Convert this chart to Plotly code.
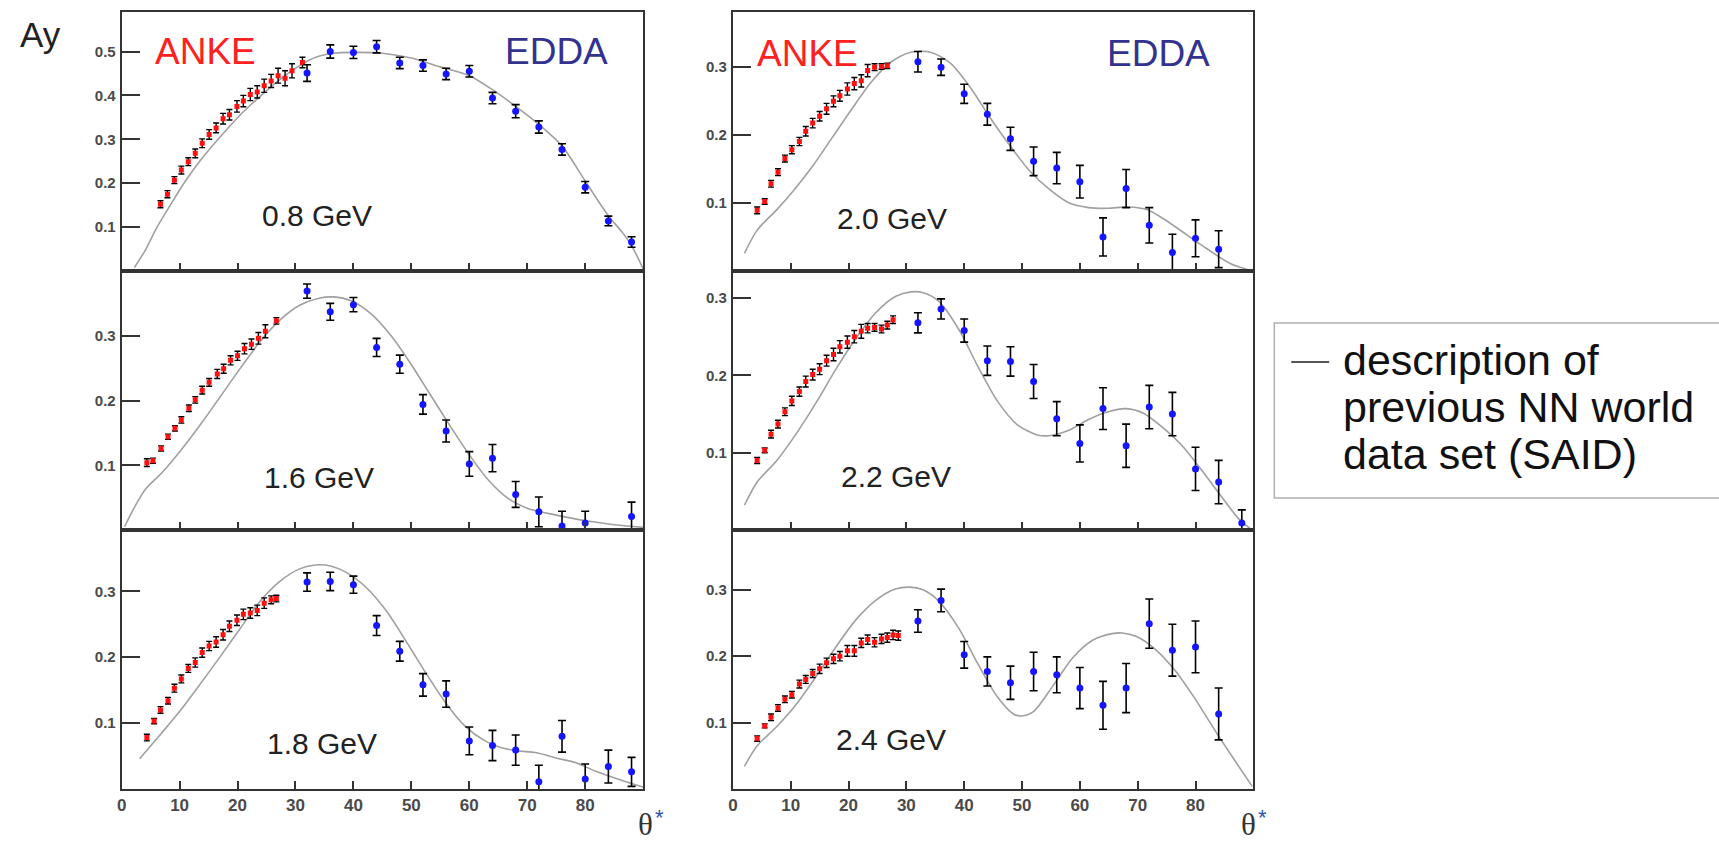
import plotly.graph_objects as go

# ---------------- data: analysing power Ay vs theta* (deg) ----------------
# 0.8 GeV
anke_theta_08 = [6.7, 7.9, 9.1, 10.3, 11.5, 12.7, 13.9, 15.1, 16.3, 17.5, 18.6, 19.9, 21.0, 22.2, 23.4, 24.6, 25.8, 27.0, 28.2, 29.4, 31.2]
anke_ay_08 = [0.152, 0.175, 0.207, 0.230, 0.249, 0.268, 0.291, 0.311, 0.326, 0.347, 0.356, 0.375, 0.387, 0.402, 0.408, 0.422, 0.433, 0.445, 0.439, 0.456, 0.475]
anke_err_08 = [0.008, 0.008, 0.008, 0.009, 0.009, 0.010, 0.010, 0.011, 0.011, 0.012, 0.012, 0.013, 0.013, 0.014, 0.014, 0.015, 0.015, 0.017, 0.017, 0.016, 0.012]
edda_theta_08 = [32, 36, 40, 44, 48, 52, 56, 60, 64, 68, 72, 76, 80, 84, 88]
edda_ay_08 = [0.451, 0.500, 0.498, 0.511, 0.474, 0.468, 0.449, 0.455, 0.394, 0.364, 0.328, 0.277, 0.191, 0.114, 0.066]
edda_err_08 = [0.019, 0.015, 0.014, 0.014, 0.013, 0.013, 0.013, 0.013, 0.013, 0.015, 0.014, 0.013, 0.013, 0.011, 0.012]
said_theta_08 = [2.2, 4.2, 5.9, 8.3, 11.0, 13.7, 17.1, 20.5, 23.9, 27.3, 30.7, 33.5, 36.5, 40, 45, 50, 55, 60, 64, 68, 72, 76, 80, 84, 86.4, 88, 90]
said_ay_08 = [0.008, 0.050, 0.095, 0.148, 0.205, 0.254, 0.307, 0.356, 0.398, 0.436, 0.468, 0.487, 0.496, 0.498, 0.496, 0.485, 0.465, 0.445, 0.413, 0.375, 0.334, 0.285, 0.205, 0.126, 0.088, 0.058, 0.005]

# 1.6 GeV
anke_theta_16 = [4.35, 5.4, 6.8, 8.0, 9.2, 10.3, 11.6, 12.7, 13.9, 15.1, 16.5, 17.6, 18.8, 20.0, 21.2, 22.4, 23.6, 24.8, 26.7]
anke_ay_16 = [0.104, 0.107, 0.126, 0.144, 0.157, 0.170, 0.188, 0.201, 0.216, 0.228, 0.241, 0.249, 0.262, 0.269, 0.280, 0.287, 0.296, 0.307, 0.323]
anke_err_16 = [0.006, 0.004, 0.004, 0.004, 0.004, 0.005, 0.005, 0.005, 0.006, 0.006, 0.007, 0.007, 0.007, 0.007, 0.008, 0.008, 0.009, 0.010, 0.005]
edda_theta_16 = [32, 36, 40, 44, 48, 52, 56, 60, 64, 68, 72, 76, 80, 88]
edda_ay_16 = [0.369, 0.337, 0.348, 0.282, 0.256, 0.194, 0.153, 0.102, 0.111, 0.055, 0.028, 0.006, 0.011, 0.021]
edda_err_16 = [0.011, 0.013, 0.011, 0.014, 0.014, 0.015, 0.017, 0.019, 0.021, 0.020, 0.023, 0.023, 0.018, 0.022]
said_theta_16 = [0.5, 2.2, 4.2, 6.9, 10.3, 13.7, 17.1, 20.5, 23.9, 27.3, 30.7, 34.1, 36.5, 39.6, 43.0, 46.4, 49.8, 53.2, 56.6, 60.0, 63.4, 66.8, 70.2, 75.0, 80.4, 86.4, 90]
said_ay_16 = [0.005, 0.035, 0.064, 0.088, 0.124, 0.164, 0.207, 0.250, 0.291, 0.324, 0.347, 0.358, 0.360, 0.354, 0.334, 0.301, 0.258, 0.210, 0.162, 0.116, 0.076, 0.048, 0.033, 0.023, 0.014, 0.007, 0.004]

# 1.8 GeV
anke_theta_18 = [4.35, 5.6, 6.7, 8.0, 9.1, 10.3, 11.5, 12.7, 13.9, 15.1, 16.3, 17.5, 18.6, 19.9, 21.0, 22.2, 23.4, 24.6, 25.8, 26.7]
anke_ay_18 = [0.078, 0.103, 0.120, 0.134, 0.153, 0.167, 0.183, 0.192, 0.207, 0.217, 0.223, 0.234, 0.247, 0.256, 0.265, 0.267, 0.271, 0.282, 0.287, 0.289]
anke_err_18 = [0.005, 0.004, 0.005, 0.005, 0.006, 0.006, 0.006, 0.007, 0.007, 0.007, 0.008, 0.008, 0.008, 0.008, 0.008, 0.008, 0.008, 0.008, 0.006, 0.005]
edda_theta_18 = [32, 36, 40, 44, 48, 52, 56, 60, 64, 68, 72, 76, 80, 84, 88]
edda_ay_18 = [0.314, 0.315, 0.310, 0.248, 0.209, 0.158, 0.144, 0.073, 0.066, 0.059, 0.011, 0.080, 0.015, 0.034, 0.026]
edda_err_18 = [0.014, 0.014, 0.013, 0.015, 0.015, 0.017, 0.020, 0.021, 0.023, 0.023, 0.025, 0.024, 0.023, 0.025, 0.022]
said_theta_18 = [3.1, 6.9, 10.3, 13.7, 17.1, 20.5, 23.9, 27.3, 30.7, 33.5, 36.2, 38.9, 42.3, 45.7, 49.1, 52.5, 55.9, 59.3, 62.7, 65.4, 68.2, 71.6, 75.0, 78.4, 81.8, 86.4, 90]
said_ay_18 = [0.046, 0.085, 0.121, 0.161, 0.202, 0.244, 0.285, 0.315, 0.334, 0.340, 0.338, 0.328, 0.305, 0.270, 0.224, 0.176, 0.131, 0.095, 0.073, 0.063, 0.058, 0.055, 0.047, 0.040, 0.027, 0.013, 0.003]

# 2.0 GeV
anke_theta_20 = [4.2, 5.5, 6.6, 7.8, 9.0, 10.2, 11.5, 12.6, 13.8, 15.0, 16.2, 17.4, 18.5, 19.8, 21.0, 22.2, 23.3, 24.5, 25.7, 26.7]
anke_ay_20 = [0.089, 0.102, 0.128, 0.145, 0.165, 0.178, 0.190, 0.205, 0.217, 0.227, 0.238, 0.249, 0.257, 0.267, 0.275, 0.279, 0.294, 0.299, 0.300, 0.301]
anke_err_20 = [0.005, 0.004, 0.005, 0.005, 0.005, 0.006, 0.006, 0.007, 0.007, 0.007, 0.008, 0.008, 0.008, 0.009, 0.009, 0.009, 0.009, 0.005, 0.004, 0.004]
edda_theta_20 = [32, 36, 40, 44, 48, 52, 56, 60, 64, 68, 72, 76, 80, 84]
edda_ay_20 = [0.307, 0.299, 0.260, 0.230, 0.194, 0.161, 0.151, 0.131, 0.050, 0.121, 0.067, 0.027, 0.048, 0.032]
edda_err_20 = [0.015, 0.012, 0.014, 0.016, 0.017, 0.021, 0.023, 0.024, 0.028, 0.028, 0.026, 0.027, 0.027, 0.027]
said_theta_20 = [2.0, 4.2, 7.6, 10.4, 13.8, 17.2, 20.6, 24.0, 27.4, 30.8, 34.2, 37.6, 41.0, 44.4, 47.9, 51.3, 54.7, 58.1, 61.5, 64.9, 68.3, 71.7, 75.1, 78.5, 81.9, 86.0, 89.8]
said_ay_20 = [0.026, 0.060, 0.090, 0.117, 0.154, 0.196, 0.238, 0.278, 0.307, 0.321, 0.321, 0.305, 0.270, 0.226, 0.184, 0.147, 0.120, 0.100, 0.093, 0.092, 0.094, 0.090, 0.073, 0.053, 0.033, 0.011, 0.0]

# 2.2 GeV
anke_theta_22 = [4.2, 5.5, 6.6, 7.8, 9.0, 10.2, 11.5, 12.6, 13.8, 15.0, 16.2, 17.4, 18.5, 19.8, 21.0, 22.2, 23.3, 24.5, 25.7, 26.7, 27.7]
anke_ay_22 = [0.090, 0.103, 0.124, 0.137, 0.153, 0.167, 0.179, 0.192, 0.201, 0.208, 0.219, 0.227, 0.237, 0.243, 0.250, 0.257, 0.261, 0.262, 0.260, 0.265, 0.272]
anke_err_22 = [0.004, 0.003, 0.005, 0.005, 0.005, 0.006, 0.006, 0.007, 0.007, 0.007, 0.007, 0.008, 0.008, 0.008, 0.008, 0.009, 0.006, 0.005, 0.005, 0.005, 0.005]
edda_theta_22 = [32, 36, 40, 44, 48, 52, 56, 60, 64, 68, 72, 76, 80, 84, 88]
edda_ay_22 = [0.268, 0.286, 0.258, 0.219, 0.218, 0.192, 0.144, 0.112, 0.157, 0.109, 0.159, 0.150, 0.079, 0.062, 0.009]
edda_err_22 = [0.013, 0.013, 0.015, 0.019, 0.019, 0.022, 0.022, 0.024, 0.027, 0.028, 0.028, 0.028, 0.028, 0.028, 0.017]
said_theta_22 = [2.0, 4.2, 7.6, 11.0, 14.5, 17.9, 21.3, 24.7, 28.1, 30.8, 32.9, 35.6, 39.1, 42.4, 45.8, 49.2, 52.6, 54.7, 58.1, 61.5, 64.9, 68.0, 71.0, 74.4, 77.8, 81.3, 84.7, 87.4, 89.4]
said_ay_22 = [0.032, 0.062, 0.090, 0.125, 0.166, 0.209, 0.248, 0.281, 0.302, 0.308, 0.307, 0.296, 0.259, 0.211, 0.166, 0.136, 0.123, 0.122, 0.129, 0.143, 0.153, 0.157, 0.151, 0.132, 0.108, 0.075, 0.041, 0.015, 0.002]

# 2.4 GeV
anke_theta_24 = [4.2, 5.5, 6.6, 7.8, 9.0, 10.2, 11.5, 12.6, 13.8, 15.0, 16.2, 17.4, 18.5, 19.8, 21.0, 22.2, 23.3, 24.5, 25.7, 26.7, 27.7, 28.6]
anke_ay_24 = [0.076, 0.095, 0.108, 0.122, 0.135, 0.142, 0.158, 0.165, 0.174, 0.181, 0.190, 0.196, 0.200, 0.208, 0.208, 0.220, 0.225, 0.221, 0.226, 0.228, 0.232, 0.231]
anke_err_24 = [0.004, 0.003, 0.005, 0.005, 0.005, 0.005, 0.006, 0.006, 0.006, 0.007, 0.007, 0.007, 0.007, 0.008, 0.008, 0.007, 0.007, 0.007, 0.007, 0.007, 0.007, 0.007]
edda_theta_24 = [32, 36, 40, 44, 48, 52, 56, 60, 64, 68, 72, 76, 80, 84]
edda_ay_24 = [0.253, 0.284, 0.202, 0.177, 0.160, 0.177, 0.172, 0.152, 0.126, 0.152, 0.249, 0.209, 0.214, 0.113]
edda_err_24 = [0.017, 0.017, 0.020, 0.022, 0.025, 0.029, 0.027, 0.031, 0.036, 0.037, 0.037, 0.039, 0.039, 0.039]
said_theta_24 = [2.0, 4.2, 7.6, 11.0, 14.5, 17.9, 21.3, 24.7, 28.1, 30.5, 32.9, 35.6, 39.0, 42.4, 45.8, 48.5, 49.9, 51.9, 55.4, 58.8, 62.2, 65.6, 67.3, 69.7, 73.1, 76.5, 79.9, 83.3, 86.7, 89.8]
said_ay_24 = [0.034, 0.065, 0.094, 0.128, 0.171, 0.215, 0.255, 0.284, 0.301, 0.304, 0.300, 0.283, 0.243, 0.188, 0.138, 0.113, 0.110, 0.116, 0.156, 0.198, 0.224, 0.234, 0.235, 0.230, 0.210, 0.178, 0.136, 0.089, 0.044, 0.004]

energy_labels = ["0.8 GeV", "1.6 GeV", "1.8 GeV", "2.0 GeV", "2.2 GeV", "2.4 GeV"]
y_tick_values = [[0.1, 0.2, 0.3, 0.4, 0.5], [0.1, 0.2, 0.3], [0.1, 0.2, 0.3],
                 [0.1, 0.2, 0.3], [0.1, 0.2, 0.3], [0.1, 0.2, 0.3]]
y_tops = [0.59, 0.40, 0.393, 0.38, 0.335, 0.39]
x_tick_values = [0, 10, 20, 30, 40, 50, 60, 70, 80]
legend_lines = ["description of", "previous NN world", "data set (SAID)"]

panels = [
    (anke_theta_08, anke_ay_08, anke_err_08, edda_theta_08, edda_ay_08, edda_err_08, said_theta_08, said_ay_08),
    (anke_theta_16, anke_ay_16, anke_err_16, edda_theta_16, edda_ay_16, edda_err_16, said_theta_16, said_ay_16),
    (anke_theta_18, anke_ay_18, anke_err_18, edda_theta_18, edda_ay_18, edda_err_18, said_theta_18, said_ay_18),
    (anke_theta_20, anke_ay_20, anke_err_20, edda_theta_20, edda_ay_20, edda_err_20, said_theta_20, said_ay_20),
    (anke_theta_22, anke_ay_22, anke_err_22, edda_theta_22, edda_ay_22, edda_err_22, said_theta_22, said_ay_22),
    (anke_theta_24, anke_ay_24, anke_err_24, edda_theta_24, edda_ay_24, edda_err_24, said_theta_24, said_ay_24),
]

# ---------------- layout helpers (pixel -> paper) ----------------
W, H = 1719, 844


def px(x):
    return x / W


def py(y):
    return 1 - y / H


col_x = [(117, 640), (730, 1252)]
row_y = [(12, 271), (271, 530), (530, 789)]

AXIS_COLOR = "#333333"
TICK_FONT = dict(family="Liberation Sans", size=15, color="#4a4a4a", weight="bold")

fig = go.Figure()
layout = dict(
    width=W, height=H,
    margin=dict(l=0, r=0, t=0, b=0),
    paper_bgcolor="white", plot_bgcolor="white",
    showlegend=False,
)

for i, (at, ay, ae, et, ey, ee, st, sy) in enumerate(panels):
    col, row = divmod(i, 3)
    n = "" if i == 0 else str(i + 1)
    xa, ya = "x" + n, "y" + n
    x0, x1 = col_x[col]
    y0, y1 = row_y[row]
    bottom = row == 2

    layout["xaxis" + n] = dict(
        domain=[px(x0), px(x1)], anchor=ya, range=[0, 90],
        showgrid=False, zeroline=False,
        showline=True, linecolor=AXIS_COLOR, linewidth=2, mirror=True,
        ticks="inside", ticklen=8, tickwidth=2, tickcolor=AXIS_COLOR,
        tickvals=x_tick_values, showticklabels=bottom,
        tickfont=dict(family="Liberation Sans", size=17, color="#4a4a4a", weight="bold"),
    )
    layout["yaxis" + n] = dict(
        domain=[py(y1), py(y0)], anchor=xa, range=[0, y_tops[i]],
        showgrid=False, zeroline=False,
        showline=True, linecolor=AXIS_COLOR, linewidth=2, mirror=True,
        ticks="inside", ticklen=18, tickwidth=2, tickcolor=AXIS_COLOR,
        tickvals=y_tick_values[i], ticktext=[f"{v:.1f}" for v in y_tick_values[i]],
        tickfont=TICK_FONT, ticklabelstandoff=1,
    )

    # SAID partial-wave description
    fig.add_trace(go.Scatter(
        x=st, y=sy, xaxis=xa, yaxis=ya, mode="lines",
        line=dict(color="#a0a0a0", width=1.6, shape="spline", smoothing=0.8),
        hoverinfo="skip",
    ))
    # ANKE data
    fig.add_trace(go.Scatter(
        x=at, y=ay, xaxis=xa, yaxis=ya, mode="markers",
        marker=dict(symbol="square", size=5, color="#ff1010"),
        error_y=dict(type="data", array=ae, color="black", thickness=1.4, width=3),
    ))
    # EDDA data
    fig.add_trace(go.Scatter(
        x=et, y=ey, xaxis=xa, yaxis=ya, mode="markers",
        marker=dict(symbol="circle", size=7, color="#1515ff"),
        error_y=dict(type="data", array=ee, color="black", thickness=1.6, width=4),
    ))

annotations = []
label_pos = [(313, 216), (315, 477), (318, 743), (890, 218), (894, 476), (889, 739)]
for text, (lx, ly) in zip(energy_labels, label_pos):
    annotations.append(dict(
        x=px(lx), y=py(ly), xref="paper", yref="paper", text=text, showarrow=False,
        xanchor="center", yanchor="middle",
        font=dict(family="Liberation Sans", size=30, color="#222222"),
    ))

for ax_left, ax_right, ty in [(148, 499, 51), (752, 1103, 53)]:
    annotations.append(dict(
        x=px(ax_left), y=py(ty), xref="paper", yref="paper", text="ANKE", showarrow=False,
        xanchor="left", yanchor="middle",
        font=dict(family="Liberation Sans", size=37, color="#ff2020"),
    ))
    annotations.append(dict(
        x=px(ax_right), y=py(ty), xref="paper", yref="paper", text="EDDA", showarrow=False,
        xanchor="left", yanchor="middle",
        font=dict(family="Liberation Sans", size=37, color="#33338f"),
    ))

annotations.append(dict(
    x=px(13), y=py(34), xref="paper", yref="paper", text="Ay", showarrow=False,
    xanchor="left", yanchor="middle",
    font=dict(family="Liberation Sans", size=35, color="#222222"),
))

# x-axis titles: theta with a small raised asterisk
for tx in (642, 1247):
    annotations.append(dict(
        x=px(tx), y=0, xref="paper", yref="paper", text="θ", showarrow=False,
        xanchor="center", yanchor="bottom",
        font=dict(family="Liberation Serif", size=31, color="#333333"),
    ))
    annotations.append(dict(
        x=px(tx + 8), y=py(803), xref="paper", yref="paper", text="*", showarrow=False,
        xanchor="left", yanchor="top",
        font=dict(family="Liberation Sans", size=22, color="#2b4fb0"),
    ))

# legend box for the model curve
for line, ly in zip(legend_lines, (360, 407, 454)):
    annotations.append(dict(
        x=px(1340), y=py(ly), xref="paper", yref="paper", text=line, showarrow=False,
        xanchor="left", yanchor="middle",
        font=dict(family="Liberation Sans", size=43, color="#111111"),
    ))

layout["annotations"] = annotations
layout["shapes"] = [
    dict(type="rect", xref="paper", yref="paper",
         x0=px(1273), x1=px(1730), y0=py(498), y1=py(323),
         line=dict(color="#b0b0b0", width=1.5), fillcolor="rgba(0,0,0,0)"),
    dict(type="line", xref="paper", yref="paper",
         x0=px(1290), x1=px(1328), y0=py(362), y1=py(362),
         line=dict(color="#555555", width=2)),
]

fig.update_layout(**layout)
fig.write_html("out.html")
